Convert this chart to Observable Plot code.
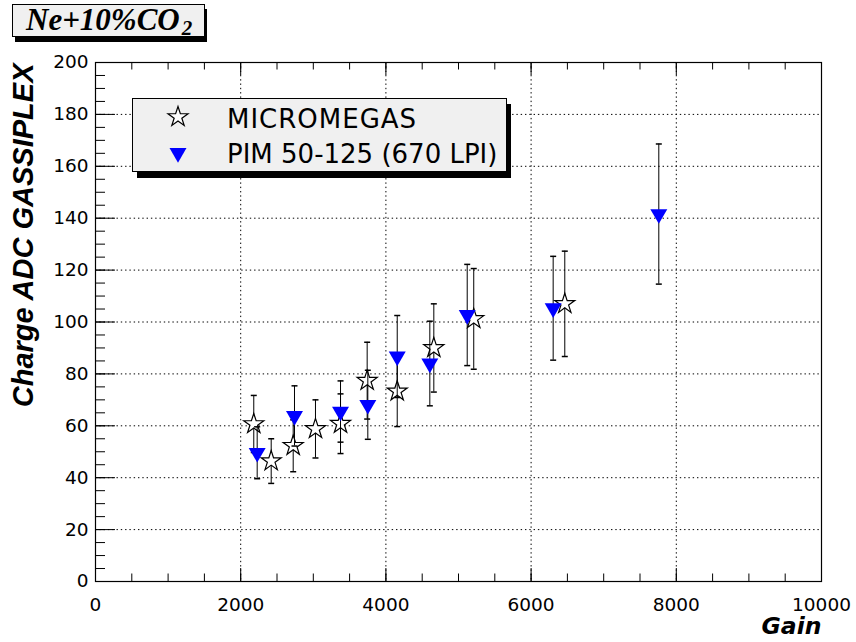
<!DOCTYPE html>
<html>
<head>
<meta charset="utf-8">
<script src="https://cdn.jsdelivr.net/npm/d3@7"></script>
<script src="https://cdn.jsdelivr.net/npm/@observablehq/plot@0.6"></script>
<style>
  body { margin: 0; background: #fff; }
  #wrap { position: relative; width: 856px; height: 642px; overflow: hidden; background: #fff; }
</style>
</head>
<body>
<div id="wrap"></div>
<script>
// ---- data ----
const titleText = "Ne+10%CO";
const titleSub = "2";
const seriesNames = ["MICROMEGAS", "PIM 50-125 (670 LPI)"];
const xLabel = "Gain";
const yLabel = "Charge ADC GASSIPLEX";

const gainMicro   = [2180, 2420, 2723, 3030, 3375, 3742, 4156, 4660, 5210, 6464];
const chargeMicro = [60.7, 46.4, 52.3, 58.8, 60.8, 77.4, 73.3, 90.0, 101.2, 107.0];
const errMicro    = [11.0, 8.6, 10.0, 11.2, 11.5, 14.8, 13.6, 17.0, 19.4, 20.3];

const gainPim   = [2227, 2741, 3375, 3751, 4156, 4605, 5120, 6304, 7759];
const chargePim = [49.6, 63.8, 65.5, 68.1, 86.7, 84.0, 102.7, 105.3, 141.6];
const errPim    = [10.0, 11.6, 11.8, 13.3, 15.8, 16.3, 19.5, 20.0, 27.0];

const xTicks = [0, 2000, 4000, 6000, 8000, 10000];
const xMinor = d3.range(0, 10001, 500);
const yTicks = d3.range(0, 201, 20);
const yMinor = d3.range(0, 201, 5);
const xGrid = [2000, 4000, 6000, 8000];
const yGrid = d3.range(20, 200, 20);

const micro = gainMicro.map((g, i) => ({g, v: chargeMicro[i], e: errMicro[i]}));
const pim = gainPim.map((g, i) => ({g, v: chargePim[i], e: errPim[i]}));

// ---- layout ----
const W = 856, H = 642;
const mL = 95, mR = 35, mT = 62, mB = 61;
const innerW = W - mL - mR, innerH = H - mT - mB;

const cap = {draw(ctx) { ctx.moveTo(-3, 0); ctx.lineTo(3, 0); }};
const dash = "1.4,2.9";

const chart = Plot.plot({
  width: W, height: H,
  marginLeft: mL, marginRight: mR, marginTop: mT, marginBottom: mB,
  style: {fontFamily: "DejaVu Sans", fontSize: "18.5px", color: "#000", background: "#fff"},
  x: {domain: [0, 10000], ticks: xTicks, tickSize: 0, tickPadding: 16, tickFormat: d => String(d), label: null},
  y: {domain: [0, 200], ticks: yTicks, tickSize: 0, tickPadding: 7, tickFormat: d => String(d), label: null},
  marks: [
    Plot.ruleX(xGrid, {x: d => d, stroke: "#000", strokeDasharray: dash}),
    Plot.ruleY(yGrid, {y: d => d, stroke: "#000", strokeDasharray: dash}),
    // inward ticks: left
    Plot.ruleY(yTicks, {y: d => d, stroke: "#000", insetRight: innerW - 20}),
    Plot.ruleY(yMinor, {y: d => d, stroke: "#000", insetRight: innerW - 10}),
    // bottom
    Plot.ruleX(xTicks, {x: d => d, stroke: "#000", insetTop: innerH - 13}),
    Plot.ruleX(xMinor, {x: d => d, stroke: "#000", insetTop: innerH - 7.5}),
    // top
    Plot.ruleX(xTicks, {x: d => d, stroke: "#000", insetBottom: innerH - 13}),
    Plot.ruleX(xMinor, {x: d => d, stroke: "#000", insetBottom: innerH - 7.5}),
    Plot.frame({stroke: "#000", strokeWidth: 1.2}),
    // MICROMEGAS
    Plot.ruleX(micro, {x: "g", y1: d => d.v - d.e, y2: d => d.v + d.e, stroke: "#000"}),
    Plot.dot(micro, {x: "g", y: d => d.v - d.e, symbol: cap, r: 3, fill: "none", stroke: "#000"}),
    Plot.dot(micro, {x: "g", y: d => d.v + d.e, symbol: cap, r: 3, fill: "none", stroke: "#000"}),
    Plot.dot(micro, {x: "g", y: "v", symbol: "star", r: 6.3, fill: "#fff", stroke: "#000", strokeWidth: 1.2}),
    // PIM
    Plot.ruleX(pim, {x: "g", y1: d => d.v - d.e, y2: d => d.v + d.e, stroke: "#000"}),
    Plot.dot(pim, {x: "g", y: d => d.v - d.e, symbol: cap, r: 3, fill: "none", stroke: "#000"}),
    Plot.dot(pim, {x: "g", y: d => d.v + d.e, symbol: cap, r: 3, fill: "none", stroke: "#000"}),
    Plot.dot(pim, {x: "g", y: "v", symbol: "triangle", r: 6.3, rotate: 180, fill: "#0000ff", stroke: "none"}),
    // axis titles
    Plot.text([xLabel], {text: d => d, frameAnchor: "bottom-right", dy: 45, textAnchor: "end", lineAnchor: "middle",
      fontFamily: "DejaVu Sans", fontWeight: "bold", fontStyle: "italic", fontSize: 23.5, fill: "#000"}),
    Plot.text([yLabel], {text: d => d, frameAnchor: "top-left", dx: -72, dy: 1, rotate: -90, textAnchor: "end", lineAnchor: "middle",
      fontFamily: "Liberation Sans", fontWeight: "bold", fontStyle: "italic", fontSize: 29, fill: "#000"})
  ]
});

document.getElementById("wrap").appendChild(chart);

// ---- title box and legend (annotation layer in the same SVG) ----
const svg = d3.select(chart);
const ann = svg.append("g").attr("text-anchor", "start");

// title box
ann.append("rect").attr("x", 15).attr("y", 9).attr("width", 192).attr("height", 33).attr("fill", "#000");
ann.append("rect").attr("x", 12.5).attr("y", 4.5).attr("width", 192).attr("height", 32)
  .attr("fill", "#f0f0f0").attr("stroke", "#000").attr("stroke-width", 1);
const tt = ann.append("text").attr("x", 26).attr("y", 30).attr("text-anchor", "start")
  .attr("font-family", "Liberation Serif").attr("font-weight", "bold").attr("font-style", "italic")
  .attr("font-size", 31).attr("fill", "#000");
tt.append("tspan").text(titleText);
tt.append("tspan").attr("font-size", 21).attr("dy", 5).attr("dx", 2).text(titleSub);

// legend
ann.append("rect").attr("x", 137).attr("y", 104).attr("width", 374).attr("height", 74).attr("fill", "#000");
ann.append("rect").attr("x", 132.5).attr("y", 98.5).attr("width", 374).attr("height", 73)
  .attr("fill", "#f0f0f0").attr("stroke", "#000").attr("stroke-width", 1);
ann.append("path").attr("transform", "translate(178,117)")
  .attr("d", d3.symbol(d3.symbolStar, Math.PI * 6.3 * 6.3)()).attr("fill", "#fff").attr("stroke", "#000").attr("stroke-width", 1.2);
ann.append("path").attr("transform", "translate(178,153) rotate(180)")
  .attr("d", d3.symbol(d3.symbolTriangle, Math.PI * 6.3 * 6.3)()).attr("fill", "#0000ff");
ann.append("text").attr("x", 227).attr("y", 128).attr("text-anchor", "start").attr("font-family", "DejaVu Sans").attr("font-size", 26)
  .attr("letter-spacing", "1px").attr("fill", "#000").text(seriesNames[0]);
ann.append("text").attr("x", 227).attr("y", 162.5).attr("text-anchor", "start").attr("font-family", "DejaVu Sans").attr("font-size", 26)
  .attr("fill", "#000").text(seriesNames[1]);
</script>
</body>
</html>
